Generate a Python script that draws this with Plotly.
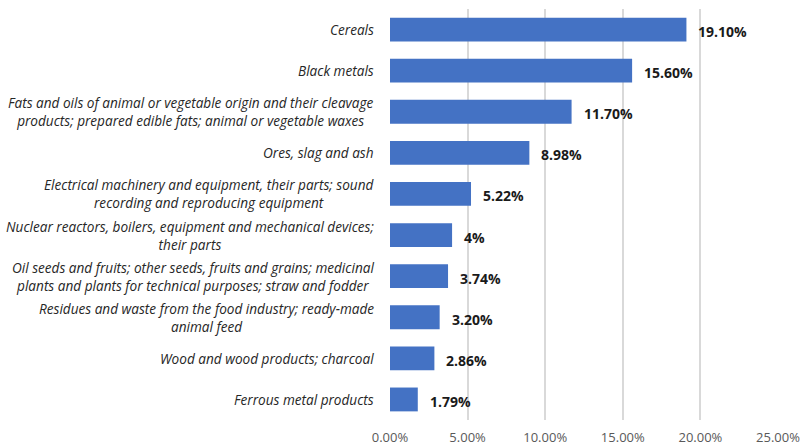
import plotly.graph_objects as go

categories = [
    "Cereals",
    "Black metals",
    "Fats and oils of animal or vegetable origin and their cleavage<br>products; prepared edible fats; animal or vegetable waxes",
    "Ores, slag and ash",
    "Electrical machinery and equipment, their parts; sound<br>recording and reproducing equipment",
    "Nuclear reactors, boilers, equipment and mechanical devices;<br>their parts",
    "Oil seeds and fruits; other seeds, fruits and grains; medicinal<br>plants and plants for technical purposes; straw and fodder",
    "Residues and waste from the food industry; ready-made<br>animal feed",
    "Wood and wood products; charcoal",
    "Ferrous metal products",
]
values = [19.10, 15.60, 11.70, 8.98, 5.22, 4.0, 3.74, 3.20, 2.86, 1.79]
value_labels = ["19.10%", "15.60%", "11.70%", "8.98%", "5.22%", "4%", "3.74%", "3.20%", "2.86%", "1.79%"]
tick_values = [0, 5, 10, 15, 20, 25]
tick_labels = ["0.00%", "5.00%", "10.00%", "15.00%", "20.00%", "25.00%"]

FONT = "Open Sans"

fig = go.Figure()
fig.add_trace(go.Bar(
    x=values,
    y=categories,
    orientation="h",
    marker=dict(color="#4472C4", line=dict(width=0)),
    width=0.58,
    hoverinfo="skip",
))

# value labels
for c, v, lab in zip(categories, values, value_labels):
    fig.add_annotation(
        x=v, y=c, text=f"<b>{lab}</b>", showarrow=False,
        xanchor="left", yanchor="middle", xshift=10, yshift=-2,
        font=dict(family=FONT, size=14, color="#1a1a1a"),
    )

# category labels (centered multi-line, right-anchored next to axis)
for c in categories:
    fig.add_annotation(
        xref="paper", x=0, y=c, text=c, showarrow=False,
        xanchor="right", yanchor="middle", align="center", xshift=-14,
        font=dict(family=FONT, size=13.6, color="#262626", style="italic"),
    )

fig.update_layout(
    width=804, height=448,
    margin=dict(l=390, r=26, t=9, b=28, autoexpand=False),
    plot_bgcolor="white", paper_bgcolor="white",
    showlegend=False,
    font=dict(family=FONT),
    xaxis=dict(
        range=[0, 25], tickvals=tick_values, ticktext=tick_labels,
        showgrid=True, gridcolor="#d9d9d9", gridwidth=1.5,
        zeroline=False, showline=False, automargin=False,
        tickfont=dict(family=FONT, size=13, color="#595959"),
        ticklabelstandoff=8,
    ),
    yaxis=dict(
        autorange="reversed", automargin=False,
        showgrid=False, zeroline=False, showline=False,
        showticklabels=False,
    ),
)

fig.write_html("out.html")
